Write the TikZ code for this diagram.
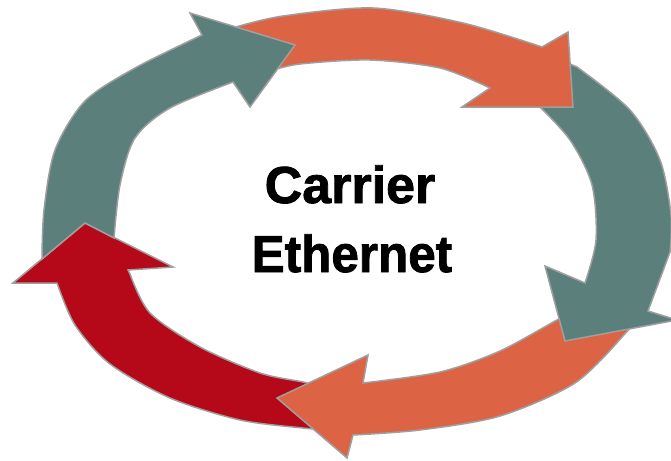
\documentclass[tikz,border=0pt]{standalone}
\usepackage{fontspec}
\setmainfont{Liberation Sans}[BoldFeatures={FakeBold=1.6}]
\definecolor{ringteal}{HTML}{5B807C}
\definecolor{ringorange}{HTML}{DC6444}
\definecolor{ringred}{HTML}{B50818}
\begin{document}
\begin{tikzpicture}[x=1pt, y=-1pt,
  seg/.style={draw=gray!75, line width=1.5pt, line join=miter},
  label/.style={font=\fontsize{52}{60}\selectfont\bfseries, anchor=base, inner sep=0pt}]
\useasboundingbox (0,0) rectangle (671,460);
\fill[white] (0,0) rectangle (671,460);

% red arrow, lower left, pointing up
\path[seg, fill=ringred] (318,410)
  -- plot[smooth] coordinates {(318,429) (303,428) (240,420) (170,398) (110,364) (75,325) (57,283)}
  -- (13,283) -- (85,223) -- (173,267) -- (128,270)
  -- plot[smooth] coordinates {(130,274) (150,313) (200,347) (260,373) (303,382) (316,386)}
  -- cycle;

% orange arrow, bottom, pointing left
\path[seg, fill=ringorange] (632,326)
  -- plot[smooth] coordinates {(622,337) (575,383) (500,416) (420,430) (353,435)}
  -- (347,458) -- (277,398) -- (368,355) -- (363,383)
  -- plot[smooth] coordinates {(363,383) (440,372) (500,351) (557,320) (566,317)}
  -- cycle;

% teal arrow, right, pointing down
\path[seg, fill=ringteal] (570,64)
  -- plot[smooth] coordinates {(577,67) (630,110) (660,160) (671,215) (670,252)}
  -- (648,311) -- (677,320) -- (565,341) -- (545,266) -- (585,283)
  -- plot[smooth] coordinates {(585,283) (596,240) (592,185) (570,140) (537,104)}
  -- cycle;

% orange arrow, top, pointing right
\path[seg, fill=ringorange] (268,72)
  -- plot[smooth] coordinates {(236,27) (283,16) (373,8) (463,23) (542,47)}
  -- (568,32) -- (573,107) -- (462,107) -- (490,88)
  -- plot[smooth] coordinates {(490,88) (440,68) (370,60) (300,64) (270,71)}
  -- cycle;

% teal arrow, upper left, pointing right; its tail ends on the red arrowhead
\path[seg, fill=ringteal] (42,259)
  -- plot[smooth] coordinates {(42,259) (44,210) (55,150) (85,101) (135,68) (202,35)}
  -- (190,13) -- (295,45) -- (250,107) -- (233,82)
  -- plot[smooth] coordinates {(233,82) (170,108) (135,138) (120,185) (114,238)}
  -- (85,223) -- cycle;

\node[label] (carrier) at (350,203) {Carrier};
\node[label, xscale=0.95, transform shape] (ethernet) at (352,272) {Ethernet};
\end{tikzpicture}
\end{document}
